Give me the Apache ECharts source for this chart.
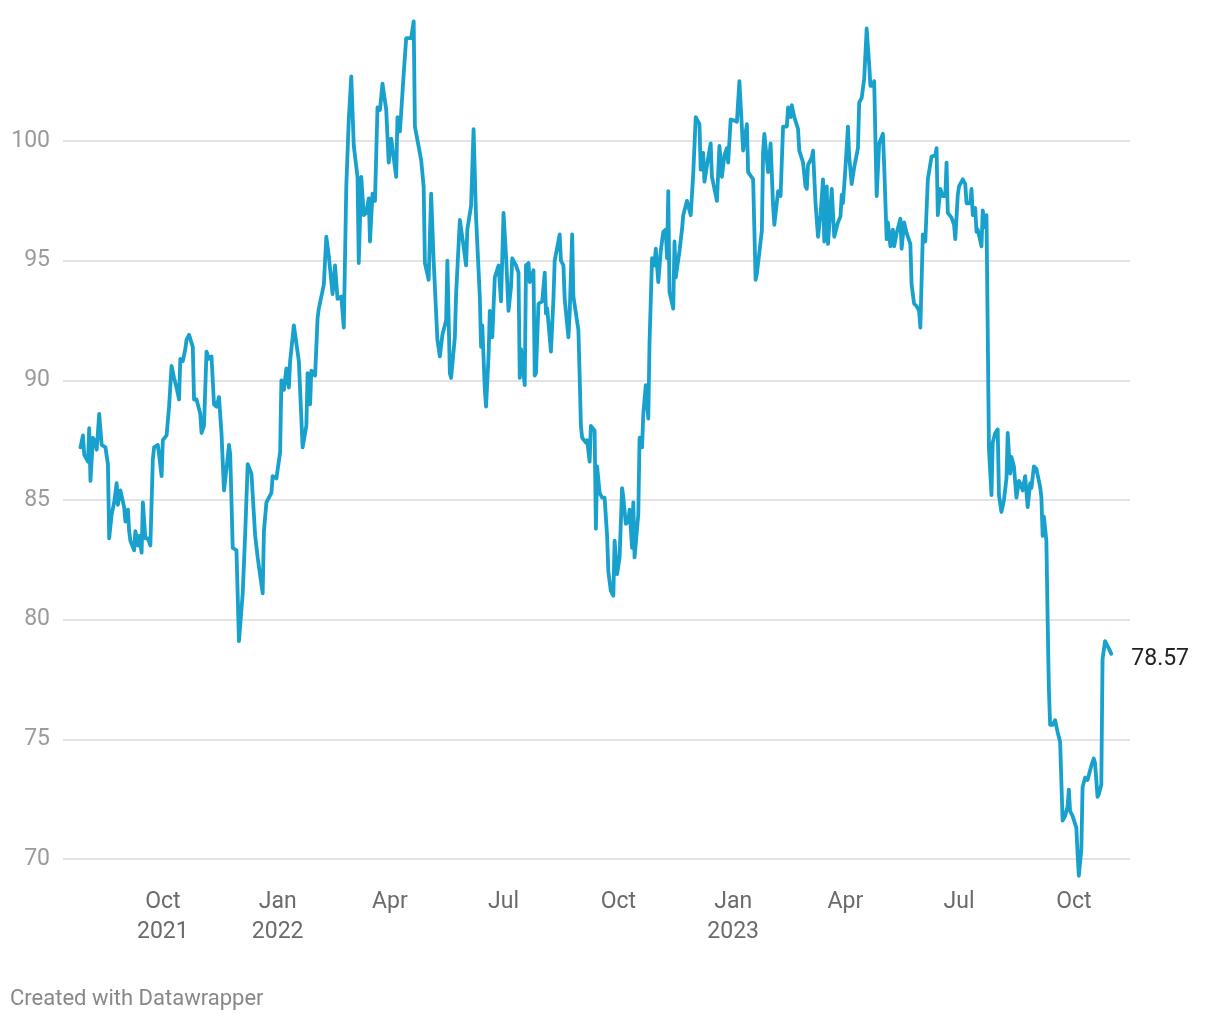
<!DOCTYPE html>
<html>
<head>
<meta charset="utf-8">
<script src="https://cdn.jsdelivr.net/npm/echarts@6/dist/echarts.min.js"></script>
<style>
  html, body { margin: 0; padding: 0; background: #ffffff; }
  #chart { width: 1220px; height: 1020px; }
</style>
</head>
<body>
<div id="chart"></div>
<script>
const dates = [
'2021-07-27','2021-07-29','2021-07-30','2021-08-02','2021-08-03','2021-08-04','2021-08-06','2021-08-08','2021-08-09','2021-08-11',
'2021-08-13','2021-08-16','2021-08-18','2021-08-19','2021-08-21','2021-08-23','2021-08-25','2021-08-26','2021-08-28','2021-08-31',
'2021-09-01','2021-09-03','2021-09-04','2021-09-05','2021-09-08','2021-09-09','2021-09-11','2021-09-12','2021-09-14','2021-09-15',
'2021-09-17','2021-09-19','2021-09-21','2021-09-23','2021-09-24','2021-09-27','2021-09-28','2021-09-30','2021-10-01','2021-10-04',
'2021-10-06','2021-10-08','2021-10-10','2021-10-12','2021-10-14','2021-10-15','2021-10-17','2021-10-19','2021-10-20','2021-10-22',
'2021-10-25','2021-10-26','2021-10-28','2021-10-30','2021-10-31','2021-11-01','2021-11-03','2021-11-05','2021-11-07','2021-11-09',
'2021-11-11','2021-11-13','2021-11-15','2021-11-17','2021-11-19','2021-11-21','2021-11-23','2021-11-24','2021-11-26','2021-11-29',
'2021-12-01','2021-12-04','2021-12-06','2021-12-08','2021-12-11','2021-12-14','2021-12-16','2021-12-20','2021-12-21','2021-12-23',
'2021-12-27','2021-12-28','2021-12-31','2022-01-03','2022-01-04','2022-01-06','2022-01-08','2022-01-10','2022-01-11','2022-01-14',
'2022-01-18','2022-01-21','2022-01-24','2022-01-25','2022-01-27','2022-01-28','2022-01-31','2022-02-02','2022-02-03','2022-02-07',
'2022-02-09','2022-02-11','2022-02-14','2022-02-16','2022-02-18','2022-02-21','2022-02-23','2022-02-25','2022-02-27','2022-03-01',
'2022-03-03','2022-03-06','2022-03-07','2022-03-09','2022-03-11','2022-03-13','2022-03-15','2022-03-16','2022-03-18','2022-03-20',
'2022-03-22','2022-03-24','2022-03-26','2022-03-29','2022-03-31','2022-04-02','2022-04-06','2022-04-07','2022-04-09','2022-04-12',
'2022-04-14','2022-04-18','2022-04-20','2022-04-21','2022-04-26','2022-04-28','2022-04-29','2022-05-02','2022-05-04','2022-05-06',
'2022-05-09','2022-05-11','2022-05-13','2022-05-16','2022-05-17','2022-05-19','2022-05-20','2022-05-23','2022-05-24','2022-05-27',
'2022-05-30','2022-06-01','2022-06-02','2022-06-05','2022-06-07','2022-06-09','2022-06-12','2022-06-13','2022-06-14','2022-06-16',
'2022-06-17','2022-06-19','2022-06-20','2022-06-22','2022-06-24','2022-06-27','2022-06-29','2022-07-01','2022-07-03','2022-07-05',
'2022-07-07','2022-07-08','2022-07-11','2022-07-13','2022-07-14','2022-07-15','2022-07-18','2022-07-19','2022-07-21','2022-07-22',
'2022-07-25','2022-07-26','2022-07-27','2022-07-29','2022-08-01','2022-08-03','2022-08-04','2022-08-05','2022-08-08','2022-08-10',
'2022-08-11','2022-08-15','2022-08-16','2022-08-18','2022-08-19','2022-08-22','2022-08-23','2022-08-25','2022-08-26','2022-08-30',
'2022-08-31','2022-09-01','2022-09-02','2022-09-05','2022-09-06','2022-09-08','2022-09-09','2022-09-12','2022-09-13','2022-09-14',
'2022-09-16','2022-09-18','2022-09-20','2022-09-22','2022-09-23','2022-09-25','2022-09-27','2022-09-28','2022-09-30','2022-10-02',
'2022-10-04','2022-10-05','2022-10-07','2022-10-09','2022-10-10','2022-10-12','2022-10-13','2022-10-14','2022-10-17','2022-10-18',
'2022-10-20','2022-10-21','2022-10-23','2022-10-25','2022-10-26','2022-10-28','2022-10-30','2022-10-31','2022-11-02','2022-11-04',
'2022-11-06','2022-11-08','2022-11-09','2022-11-10','2022-11-11','2022-11-14','2022-11-15','2022-11-16','2022-11-19','2022-11-21',
'2022-11-22','2022-11-25','2022-11-28','2022-11-30','2022-12-02','2022-12-05','2022-12-06','2022-12-08','2022-12-09','2022-12-12',
'2022-12-14','2022-12-15','2022-12-19','2022-12-21','2022-12-23','2022-12-25','2022-12-27','2022-12-28','2022-12-30','2023-01-02',
'2023-01-04','2023-01-06','2023-01-09','2023-01-10','2023-01-12','2023-01-13','2023-01-17','2023-01-19','2023-01-20','2023-01-24',
'2023-01-25','2023-01-26','2023-01-29','2023-01-31','2023-02-02','2023-02-03','2023-02-06','2023-02-08','2023-02-10','2023-02-13',
'2023-02-14','2023-02-16','2023-02-17','2023-02-19','2023-02-22','2023-02-23','2023-02-26','2023-02-28','2023-03-01','2023-03-02',
'2023-03-05','2023-03-06','2023-03-08','2023-03-10','2023-03-11','2023-03-12','2023-03-14','2023-03-15','2023-03-17','2023-03-18',
'2023-03-21','2023-03-23','2023-03-26','2023-03-28','2023-03-29','2023-03-30','2023-04-01','2023-04-03','2023-04-04','2023-04-06',
'2023-04-08','2023-04-11','2023-04-12','2023-04-14','2023-04-16','2023-04-18','2023-04-20','2023-04-21','2023-04-23','2023-04-24',
'2023-04-26','2023-04-28','2023-05-01','2023-05-02','2023-05-04','2023-05-05','2023-05-07','2023-05-09','2023-05-10','2023-05-12',
'2023-05-13','2023-05-15','2023-05-16','2023-05-18','2023-05-20','2023-05-23','2023-05-24','2023-05-26','2023-05-28','2023-05-30',
'2023-05-31','2023-06-02','2023-06-04','2023-06-06','2023-06-09','2023-06-12','2023-06-13','2023-06-14','2023-06-16','2023-06-18',
'2023-06-20','2023-06-21','2023-06-22','2023-06-25','2023-06-27','2023-06-28','2023-06-30','2023-07-01','2023-07-04','2023-07-06',
'2023-07-07','2023-07-10','2023-07-11','2023-07-12','2023-07-14','2023-07-15','2023-07-16','2023-07-19','2023-07-20','2023-07-22',
'2023-07-23','2023-07-24','2023-07-25','2023-07-27','2023-07-28','2023-07-30','2023-08-01','2023-08-02','2023-08-04','2023-08-06',
'2023-08-08','2023-08-09','2023-08-11','2023-08-12','2023-08-14','2023-08-16','2023-08-18','2023-08-19','2023-08-21','2023-08-23',
'2023-08-25','2023-08-27','2023-08-28','2023-08-30','2023-09-01','2023-09-04','2023-09-05','2023-09-06','2023-09-07','2023-09-09',
'2023-09-10','2023-09-11','2023-09-12','2023-09-14','2023-09-16','2023-09-18','2023-09-20','2023-09-22','2023-09-24','2023-09-26',
'2023-09-27','2023-09-28','2023-09-30','2023-10-03','2023-10-04','2023-10-05','2023-10-07','2023-10-08','2023-10-10','2023-10-12',
'2023-10-15','2023-10-17','2023-10-18','2023-10-20','2023-10-21','2023-10-23','2023-10-24','2023-10-26','2023-10-27','2023-10-29',
'2023-10-31'
];

const values = [
87.2,87.7,86.9,86.6,88.0,85.8,87.6,87.4,87.1,88.6,
87.3,87.2,86.5,83.4,84.4,84.9,85.7,84.8,85.4,84.7,
84.1,84.6,83.7,83.3,82.9,83.7,83.1,83.5,82.8,84.9,
83.4,83.4,83.1,86.7,87.2,87.3,86.9,86.0,87.5,87.7,
88.9,90.6,90.1,89.7,89.2,90.9,90.8,91.3,91.7,91.9,
91.4,89.2,89.2,88.8,88.6,87.8,88.1,91.2,90.9,91.0,
89.0,88.9,89.3,87.8,85.4,86.3,87.3,86.9,83.0,82.9,
79.1,81.1,83.6,86.5,86.1,83.5,82.6,81.1,83.7,84.9,
85.3,86.0,85.9,87.0,90.0,89.6,90.5,89.7,90.8,92.3,
90.8,87.2,88.1,90.3,89.0,90.4,90.2,92.6,93.0,94.0,
96.0,95.2,93.6,94.8,93.4,93.5,92.2,98.1,100.9,102.7,
99.8,98.5,94.9,98.5,96.9,97.0,97.6,95.8,97.8,97.5,
101.4,101.3,102.4,101.3,99.1,100.1,98.5,101.0,100.4,102.8,
104.3,104.3,105.0,100.6,99.2,98.1,94.9,94.2,97.8,95.0,
91.7,91.0,91.9,92.5,95.0,90.3,90.1,91.8,93.6,96.7,
95.6,94.8,96.3,97.3,100.5,96.8,93.5,91.4,92.3,89.6,
88.9,91.0,92.9,91.8,94.3,94.8,93.3,97.0,95.2,92.9,
93.9,95.1,94.8,94.5,90.1,91.3,89.8,94.8,94.9,94.1,
94.6,90.2,90.3,93.2,93.3,94.5,92.8,93.0,91.2,93.4,
95.0,96.1,95.0,94.8,93.4,91.8,92.8,96.1,93.5,92.1,
90.2,88.1,87.6,87.4,87.5,86.6,88.1,87.9,83.8,86.4,
85.3,85.1,85.1,83.5,82.0,81.2,81.0,83.3,81.9,82.6,
85.5,85.1,84.0,84.1,84.6,83.0,84.9,82.6,84.4,87.6,
87.2,88.6,89.8,88.4,91.6,95.1,94.8,95.5,94.1,95.4,
96.2,96.3,95.1,97.9,93.7,93.0,95.8,94.3,95.4,96.3,
96.9,97.5,96.9,98.6,101.0,100.7,98.8,99.5,98.3,99.3,
99.9,98.5,97.5,99.8,98.5,99.4,99.7,99.1,100.9,100.85,
100.8,102.5,99.6,99.55,100.7,98.7,98.4,94.2,94.45,96.25,
99.55,100.3,98.7,99.9,97.3,96.5,97.9,97.7,100.6,100.6,
101.4,101.0,101.5,101.0,100.5,99.6,99.1,98.1,98.0,99.0,
99.3,99.6,97.4,96.0,96.0,96.9,98.4,95.8,98.1,95.7,
98.0,96.0,96.6,96.85,97.75,97.4,98.9,100.6,99.35,98.2,
98.9,99.7,101.6,101.8,102.6,104.7,103.2,102.3,102.3,102.5,
97.7,99.9,100.3,99.0,95.9,96.6,95.6,96.3,95.6,96.15,
96.15,96.75,95.5,96.6,96.15,95.7,94.0,93.2,93.1,92.9,
92.2,96.1,95.8,98.4,99.35,99.4,99.7,96.9,98.0,97.7,
97.7,99.1,97.0,96.8,96.5,95.9,97.75,98.1,98.4,98.2,
97.4,97.4,98.0,96.9,97.2,96.2,96.3,95.6,97.1,96.4,
96.9,96.9,87.1,85.2,87.4,87.8,87.95,85.2,84.5,85.0,
85.9,87.8,86.1,86.8,86.4,85.1,85.8,85.7,85.4,86.0,
84.7,85.7,85.5,86.4,86.3,85.55,85.1,83.5,84.3,83.3,
80.0,77.1,75.6,75.6,75.8,75.3,74.9,71.6,71.8,72.2,
72.9,72.0,71.8,71.3,70.2,69.3,70.4,73.0,73.4,73.3,
73.9,74.2,74.0,72.6,72.7,73.1,78.35,79.1,79.1,78.8,
78.57
];

const xTickDates = ['2021-10-01','2022-01-01','2022-04-01','2022-07-01','2022-10-01','2023-01-01','2023-04-01','2023-07-01','2023-10-01'];
const xTickLabels = ['Oct\n2021','Jan\n2022','Apr','Jul','Oct','Jan\n2023','Apr','Jul','Oct'];
const yTicks = [70, 75, 80, 85, 90, 95, 100];

function parseDay(s) {
  const p = s.split('-').map(Number);
  return Date.UTC(p[0], p[1] - 1, p[2]);
}

const tickTimes = xTickDates.map(parseDay);
const seriesData = dates.map((d, i) => [parseDay(d), values[i]]);

const chart = echarts.init(document.getElementById('chart'), null, { renderer: 'canvas' });

chart.setOption({
  animation: false,
  backgroundColor: '#ffffff',
  textStyle: { fontFamily: 'Roboto' },
  title: {
    text: 'Created with Datawrapper',
    left: 5,
    top: 983,
    textStyle: { fontFamily: 'Roboto', fontSize: 22, fontWeight: 'normal', color: '#888888' }
  },
  grid: { left: 63, right: 90, top: 141, bottom: 161, containLabel: false },
  xAxis: {
    type: 'value',
    min: parseDay('2021-07-13'),
    max: parseDay('2023-11-15'),
    axisLine: { show: false },
    axisTick: { show: false },
    splitLine: { show: false },
    axisLabel: {
      customValues: tickTimes,
      margin: 28,
      fontFamily: 'Roboto',
      fontSize: 23,
      lineHeight: 30,
      color: '#6b6b6b',
      align: 'center',
      hideOverlap: false,
      formatter: function (val) {
        for (let i = 0; i < tickTimes.length; i++) {
          if (Math.abs(tickTimes[i] - val) < 3600000) return xTickLabels[i];
        }
        return '';
      }
    }
  },
  yAxis: {
    type: 'value',
    min: yTicks[0],
    max: yTicks[yTicks.length - 1],
    interval: 5,
    axisLine: { show: false },
    axisTick: { show: false },
    axisLabel: {
      margin: 13,
      fontFamily: 'Roboto',
      fontSize: 23,
      color: '#9b9b9b'
    },
    splitLine: { lineStyle: { color: '#e3e3e3', width: 2 } }
  },
  series: [{
    type: 'line',
    data: seriesData,
    showSymbol: false,
    clip: false,
    smooth: false,
    lineStyle: { color: '#18a1cd', width: 3.8, join: 'round', cap: 'round' },
    itemStyle: { color: '#18a1cd' },
    endLabel: {
      show: true,
      distance: 20,
      offset: [0, 5],
      fontFamily: 'Roboto',
      fontSize: 23,
      color: '#222222',
      formatter: function (p) { return p.value[1].toFixed(2); }
    }
  }]
});
</script>
</body>
</html>
